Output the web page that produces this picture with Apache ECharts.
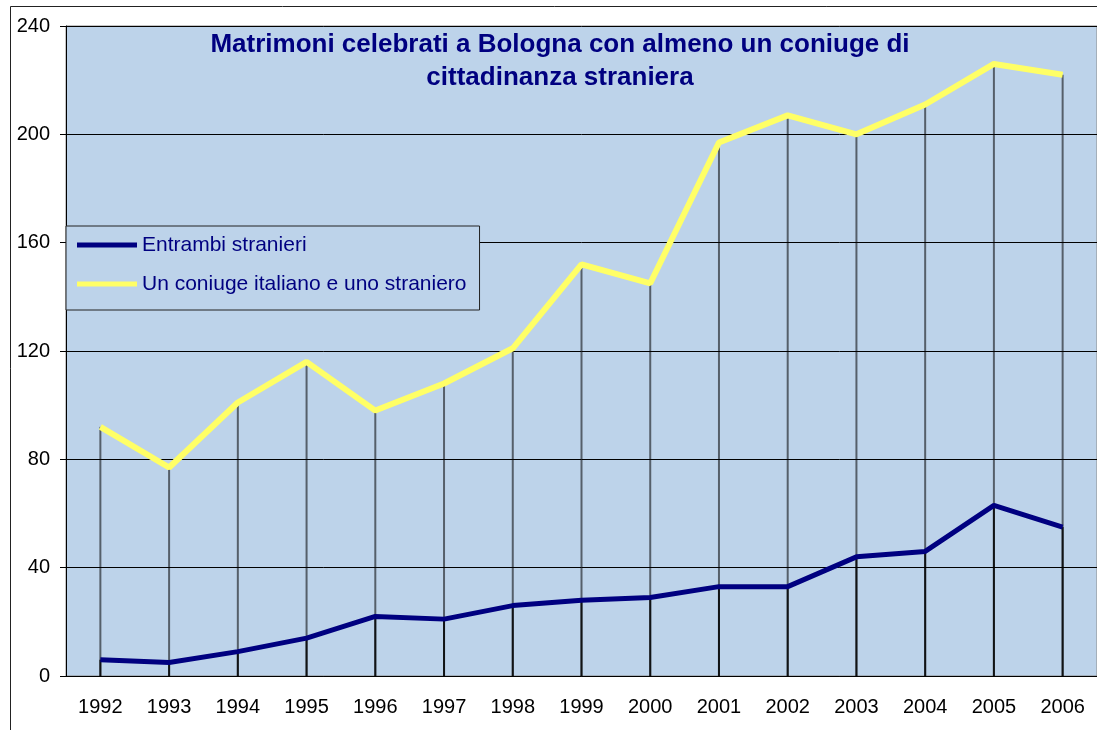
<!DOCTYPE html>
<html>
<head>
<meta charset="utf-8">
<script src="https://cdn.jsdelivr.net/npm/echarts@6/dist/echarts.min.js"></script>
<style>
  html, body { margin: 0; padding: 0; background: #fff; }
  #graph { width: 1097px; height: 730px; }
</style>
</head>
<body>
<div id="graph"></div>
<script>
var years = ['1992', '1993', '1994', '1995', '1996', '1997', '1998', '1999',
  '2000', '2001', '2002', '2003', '2004', '2005', '2006'];
var entrambi = [6, 5, 9, 14, 22, 21, 26, 28, 29, 33, 33, 44, 46, 63, 55];
var misti = [92, 77, 101, 116, 98, 108, 121, 152, 145, 197, 207, 200, 211, 226, 222];
var nameEntrambi = 'Entrambi stranieri';
var nameMisti = 'Un coniuge italiano e uno straniero';

var dom = document.getElementById('graph');
var myChart = echarts.init(dom);

var labelFont = 'Arial, "Liberation Sans", sans-serif';

var option = {
  animation: false,
  backgroundColor: '#ffffff',
  graphic: [{
    // outer chart frame
    type: 'rect',
    silent: true,
    shape: { x: 10.5, y: 6.5, width: 1200, height: 800 },
    style: { fill: 'none', stroke: '#222', lineWidth: 1 }
  }],
  title: {
    text: 'Matrimoni celebrati a Bologna con almeno un coniuge di\ncittadinanza straniera',
    left: 560,
    top: 28,
    textAlign: 'center',
    padding: 0,
    textStyle: {
      color: '#000080',
      fontFamily: labelFont,
      fontWeight: 'bold',
      fontSize: 26,
      lineHeight: 33
    }
  },
  legend: {
    data: [nameEntrambi, nameMisti],
    orient: 'vertical',
    left: 66,
    top: 226,
    icon: 'rect',
    itemWidth: 60,
    itemHeight: 5,
    itemGap: 17,
    padding: [8, 13, 15, 11],
    backgroundColor: '#BDD3EA',
    borderColor: '#222',
    borderWidth: 1,
    borderRadius: 0,
    textStyle: {
      color: '#000080',
      fontFamily: labelFont,
      fontSize: 21,
      lineHeight: 22
    }
  },
  grid: {
    left: 66,
    right: -6,
    top: 26,
    bottom: 54,
    show: true,
    backgroundColor: '#BDD3EA',
    borderColor: '#8a8a8a',
    borderWidth: 1
  },
  xAxis: {
    type: 'category',
    data: years,
    boundaryGap: true,
    axisLine: { lineStyle: { color: '#000', width: 1 } },
    axisTick: { show: false },
    axisLabel: {
      color: '#000',
      fontFamily: labelFont,
      fontSize: 20,
      margin: 21
    },
    splitLine: { show: false }
  },
  yAxis: {
    type: 'value',
    min: 0,
    max: 240,
    interval: 40,
    axisLine: { show: true, lineStyle: { color: '#000', width: 1 } },
    axisTick: { show: true, length: 6, lineStyle: { color: '#000' } },
    axisLabel: {
      color: '#000',
      fontFamily: labelFont,
      fontSize: 20,
      margin: 16
    },
    splitLine: { show: true, lineStyle: { color: '#000', width: 1 } }
  },
  series: [
    {
      // drop lines down to the axis
      name: 'drop1',
      type: 'bar',
      data: misti,
      barWidth: 2,
      barGap: '-100%',
      z: 1,
      silent: true,
      itemStyle: { color: 'rgba(0,0,0,0.55)' }
    },
    {
      name: 'drop2',
      type: 'bar',
      data: entrambi,
      barWidth: 2,
      barGap: '-100%',
      z: 1,
      silent: true,
      itemStyle: { color: 'rgba(0,0,0,0.8)' }
    },
    {
      name: nameEntrambi,
      type: 'line',
      data: entrambi,
      symbol: 'none',
      z: 3,
      color: '#000080',
      lineStyle: { color: '#000080', width: 5 }
    },
    {
      name: nameMisti,
      type: 'line',
      data: misti,
      symbol: 'none',
      z: 3,
      color: '#FFFF66',
      lineStyle: { color: '#FFFF66', width: 6 }
    }
  ]
};

myChart.setOption(option, true);
</script>
</body>
</html>
